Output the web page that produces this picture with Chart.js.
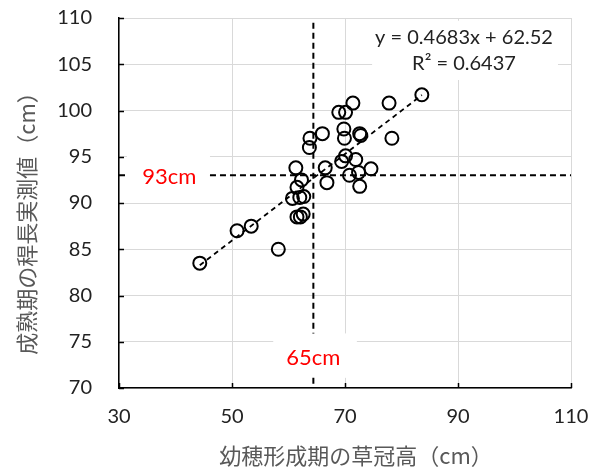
<!DOCTYPE html>
<html>
<head>
<meta charset="utf-8">
<script src="https://cdn.jsdelivr.net/npm/chart.js@4"></script>
<style>
  body { margin: 0; background: #fff; }
  canvas { display: block; }
</style>
</head>
<body>
<canvas id="chart" width="594" height="471"></canvas>
<script>
// 幼穂形成期の草冠高 (x) vs 成熟期の稈長実測値 (y), cm
const panicleHeight = [44.3, 50.9, 53.4, 58.2, 61.3, 60.7, 61.5, 62.3, 62.0, 62.7, 61.5, 62.1, 62.6,
  63.8, 63.7, 66.0, 66.5, 66.8, 68.9, 70.1, 71.4, 69.8, 69.9, 69.4, 70.1, 71.9, 70.8, 72.6, 72.8,
  72.4, 72.6, 74.6, 77.8, 78.3, 83.6];
const culmLength = [83.5, 87.0, 87.5, 85.0, 93.8, 90.5, 91.7, 92.5, 90.6, 90.7, 88.5, 88.5, 88.8,
  97.0, 96.0, 97.5, 93.8, 92.2, 99.8, 99.8, 100.8, 98.0, 97.0, 94.5, 95.1, 94.7, 93.0, 97.5, 97.3,
  93.3, 91.8, 93.7, 100.8, 97.0, 101.7];

// trendline endpoints (y = 0.4683x + 62.52)
const trendX = [44.3, 83.6];
const trendY = [83.27, 101.67];

// reference lines
const refX = 64.4;
const refY = 93;

const xTicks = [30, 50, 70, 90, 110];
const yTicks = [70, 75, 80, 85, 90, 95, 100, 105, 110];

const eqLines = ['y = 0.4683x + 62.52', 'R² = 0.6437'];
const refXLabel = '65cm';
const refYLabel = '93cm';
const xTitle = '幼穂形成期の草冠高（cm）';
const yTitle = '成熟期の稈長実測値（cm）';

const textFont = 'Lato, "Liberation Sans", sans-serif';
const jpFont = '"Noto Sans CJK JP", sans-serif';

const points = panicleHeight.map((x, i) => ({ x, y: culmLength[i] }));

function seg(x0, y0, x1, y1) {
  return {
    type: 'line',
    data: [{ x: x0, y: y0 }, { x: x1, y: y1 }],
    borderColor: '#000',
    borderWidth: 2,
    borderDash: [6, 4],
    pointRadius: 0,
    fill: false
  };
}

const decor = {
  id: 'decor',
  beforeDatasetsDraw(chart) {
    const { ctx, scales: { x, y }, chartArea: a } = chart;
    ctx.save();
    // white label boxes over the grid
    ctx.fillStyle = '#fff';
    const box = (x0, y0, x1, y1) => {
      const px0 = x.getPixelForValue(x0), px1 = x.getPixelForValue(x1);
      const py0 = y.getPixelForValue(y1), py1 = y.getPixelForValue(y0);
      ctx.fillRect(px0, py0, px1 - px0, py1 - py0);
    };
    box(74.8, 103.3, 107.7, 109.7);
    box(57.3, 71.1, 72.1, 75.9);
    box(31.4, 91.5, 46.1, 96);

    // inside tick marks
    ctx.strokeStyle = '#000';
    ctx.lineWidth = 1.5;
    ctx.beginPath();
    yTicks.forEach(v => {
      const py = Math.round(y.getPixelForValue(v)) + 0.5;
      ctx.moveTo(a.left, py);
      ctx.lineTo(a.left + 5, py);
    });
    xTicks.forEach(v => {
      const px = Math.round(x.getPixelForValue(v)) + 0.5;
      ctx.moveTo(px, a.bottom);
      ctx.lineTo(px, a.bottom - 5);
    });
    ctx.stroke();

    // equation
    ctx.fillStyle = '#222';
    ctx.font = '20px ' + textFont;
    ctx.textAlign = 'center';
    ctx.textBaseline = 'middle';
    ctx.fillText(eqLines[0], 464, 38);
    ctx.fillText(eqLines[1], 464, 64);

    // reference labels
    ctx.fillStyle = '#ff0000';
    ctx.font = '22px ' + textFont;
    ctx.fillText(refYLabel, x.getPixelForValue(38.9), y.getPixelForValue(92.85));
    ctx.fillText(refXLabel, x.getPixelForValue(64.4), y.getPixelForValue(73.2));

    // axis titles
    ctx.fillStyle = '#595959';
    ctx.font = '22px ' + jpFont;
    ctx.fillText(xTitle, 356, 456);
    ctx.translate(27, 218);
    ctx.rotate(-Math.PI / 2);
    ctx.fillText(yTitle, 0, 0);
    ctx.restore();
  }
};

new Chart(document.getElementById('chart'), {
  type: 'scatter',
  data: {
    datasets: [
      {
        data: points,
        pointRadius: 6.5,
        pointHoverRadius: 6.5,
        borderColor: '#000',
        borderWidth: 2,
        backgroundColor: 'rgba(0,0,0,0)'
      },
      Object.assign(seg(trendX[0], trendY[0], trendX[1], trendY[1]), { borderDash: [5, 4], borderWidth: 1.8 }),
      seg(refX, 109.5, refX, 75.9),
      seg(refX, 71.1, refX, 70),
      seg(30, refY, 31.4, refY),
      seg(46.1, refY, 110, refY)
    ]
  },
  options: {
    responsive: false,
    animation: false,
    layout: { padding: { top: 18, right: 23, left: 0, bottom: 0 } },
    plugins: { legend: { display: false }, tooltip: { enabled: false } },
    scales: {
      x: {
        type: 'linear',
        min: 30, max: 110,
        afterBuildTicks: s => { s.ticks = xTicks.map(v => ({ value: v })); },
        afterFit: s => { s.height = 83; s.paddingLeft = 0; s.paddingRight = 0; },
        grid: { color: '#d9d9d9', lineWidth: 1, drawTicks: false },
        border: { color: '#000', width: 1.5 },
        ticks: { color: '#222', font: { family: textFont, size: 20 }, padding: 17, maxRotation: 0 }
      },
      y: {
        type: 'linear',
        min: 70, max: 110,
        afterBuildTicks: s => { s.ticks = yTicks.map(v => ({ value: v })); },
        afterFit: s => { s.width = 119; s.paddingTop = 0; s.paddingBottom = 0; },
        grid: { color: '#d9d9d9', lineWidth: 1, drawTicks: false },
        border: { color: '#000', width: 1.5 },
        ticks: { color: '#222', font: { family: textFont, size: 20 }, padding: 27 }
      }
    }
  },
  plugins: [decor]
});
</script>
</body>
</html>
